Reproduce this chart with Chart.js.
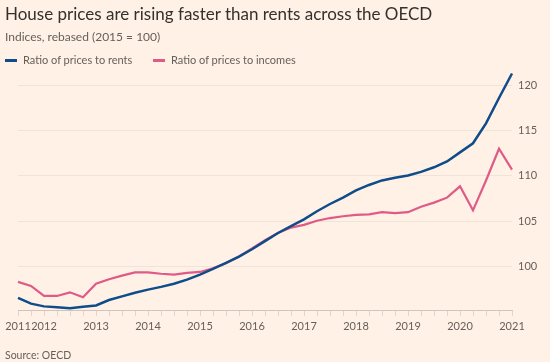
<!DOCTYPE html>
<html>
<head>
<meta charset="utf-8">
<script src="https://cdn.jsdelivr.net/npm/chart.js@4"></script>
<style>
  html, body { margin: 0; padding: 0; background: #fff1e5; }
  body { width: 550px; height: 362px; position: relative; overflow: hidden; font-family: Lato, "Open Sans", sans-serif; }
  #chart { position: absolute; left: 0; top: 0; }
  .title { position: absolute; left: 5px; top: 3px; font-size: 17px; color: #33302e; white-space: nowrap; }
  .subtitle { position: absolute; left: 5px; top: 29px; font-size: 12px; color: #66605c; white-space: nowrap; }
  .legend { position: absolute; left: 5px; top: 53px; font-size: 11px; color: #66605c; white-space: nowrap; }
  .legend span.item { position: absolute; top: 0; }
  .legend i { display: inline-block; width: 12px; height: 3px; vertical-align: middle; margin-right: 6px; position: relative; top: -1px; }
  .source { position: absolute; left: 5px; top: 349px; font-size: 10.5px; color: #66605c; white-space: nowrap; }
</style>
</head>
<body>
<canvas id="chart" width="550" height="362"></canvas>
<div class="title">House prices are rising faster than rents across the OECD</div>
<div class="subtitle">Indices, rebased (2015 = 100)</div>
<div class="legend">
  <span class="item" style="left:0"><i style="background:#0f4c8a"></i>Ratio of prices to rents</span>
  <span class="item" style="left:148px"><i style="background:#e05a87"></i>Ratio of prices to incomes</span>
</div>
<div class="source">Source: OECD</div>

<script>
// quarterly data, 2011 Q3 to 2021 Q1
const quarters = [
    '2011 Q3', '2011 Q4',
    '2012 Q1', '2012 Q2', '2012 Q3', '2012 Q4',
    '2013 Q1', '2013 Q2', '2013 Q3', '2013 Q4',
    '2014 Q1', '2014 Q2', '2014 Q3', '2014 Q4',
    '2015 Q1', '2015 Q2', '2015 Q3', '2015 Q4',
    '2016 Q1', '2016 Q2', '2016 Q3', '2016 Q4',
    '2017 Q1', '2017 Q2', '2017 Q3', '2017 Q4',
    '2018 Q1', '2018 Q2', '2018 Q3', '2018 Q4',
    '2019 Q1', '2019 Q2', '2019 Q3', '2019 Q4',
    '2020 Q1', '2020 Q2', '2020 Q3', '2020 Q4',
    '2021 Q1'
];

const pricesToRents = [
    96.55, 95.9,
    95.6, 95.5, 95.4, 95.55,
    95.7, 96.3, 96.7, 97.1,
    97.45, 97.75, 98.1, 98.55,
    99.1, 99.75, 100.4, 101.1,
    101.9, 102.8, 103.7, 104.45,
    105.2, 106.1, 106.9, 107.6,
    108.4, 109.0, 109.5, 109.8,
    110.05, 110.45, 110.95, 111.6,
    112.6, 113.6, 115.8, 118.6,
    121.3
];

const pricesToIncomes = [
    98.3, 97.85,
    96.75, 96.75, 97.15, 96.6,
    98.1, 98.6, 99.0, 99.35,
    99.35, 99.2, 99.1, 99.3,
    99.4, 99.8, 100.35, 101.1,
    102.0, 102.9, 103.7, 104.3,
    104.6, 105.05, 105.35, 105.55,
    105.7, 105.75, 106.0, 105.9,
    106.0, 106.6, 107.05, 107.6,
    108.85, 106.2, 109.5, 113.0,
    110.7
];

const yTicks = [100, 105, 110, 115, 120];

const BLUE = '#0f4c8a';
const PINK = '#e05a87';
const TEXT_GREY = '#66605c';

// year label on first point and on each Q1
function xLabel(index) {
    const q = quarters[index];
    if (index === 0 || q.endsWith('Q1')) return q.slice(0, 4);
    return '';
}

const ctx = document.getElementById('chart').getContext('2d');
new Chart(ctx, {
    type: 'line',
    data: {
        labels: quarters,
        datasets: [
            {
                label: 'Ratio of prices to rents',
                data: pricesToRents,
                borderColor: BLUE,
                borderWidth: 2.5,
                pointRadius: 0,
                tension: 0
            },
            {
                label: 'Ratio of prices to incomes',
                data: pricesToIncomes,
                borderColor: PINK,
                borderWidth: 2.2,
                pointRadius: 0,
                tension: 0
            }
        ]
    },
    options: {
        responsive: false,
        animation: false,
        layout: { padding: { left: 18, top: 69, right: 0, bottom: 0 } },
        plugins: {
            legend: { display: false },
            tooltip: { enabled: false }
        },
        scales: {
            x: {
                type: 'category',
                offset: false,
                border: { display: true, color: '#cfc5bc', width: 1 },
                grid: { display: true, drawOnChartArea: false, drawTicks: true, tickLength: 6, color: '#e0d6cd' },
                ticks: {
                    autoSkip: false,
                    maxRotation: 0,
                    padding: 4,
                    color: TEXT_GREY,
                    font: { family: 'Lato', size: 11 },
                    callback: (value, index) => xLabel(index)
                },
                afterFit: (scale) => { scale.height = 52; }
            },
            y: {
                position: 'right',
                min: 95.2,
                max: 121.8,
                border: { display: false },
                grid: { color: '#f0e3d8', drawTicks: false, lineWidth: 1 },
                ticks: {
                    padding: 6,
                    color: TEXT_GREY,
                    font: { family: 'Lato', size: 11 }
                },
                afterBuildTicks: (scale) => { scale.ticks = yTicks.map(v => ({ value: v })); },
                afterFit: (scale) => { scale.width = 38; }
            }
        }
    }
});
</script>
</body>
</html>
